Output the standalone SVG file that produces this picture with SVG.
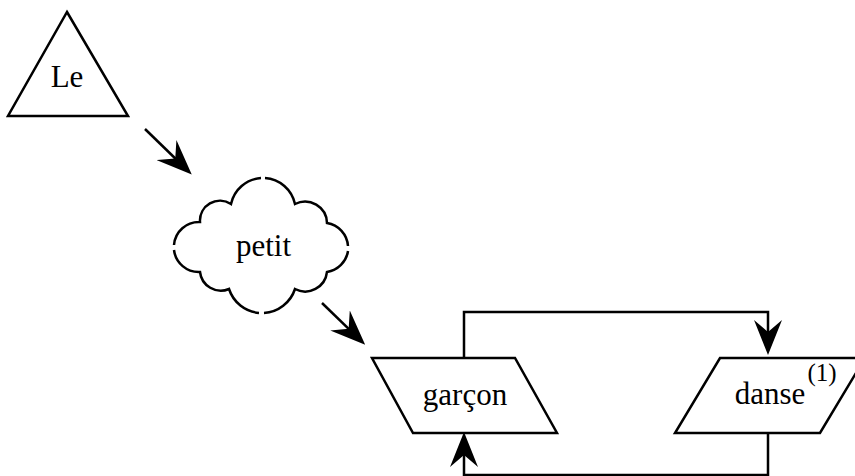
<svg xmlns="http://www.w3.org/2000/svg" width="855" height="476" viewBox="0 0 855 476">
<style>
.s{fill:#fff;stroke:#000;stroke-width:2.5;stroke-linejoin:miter}
.cl{fill:none;stroke:#000;stroke-width:2.5}
.c{fill:none;stroke:#000;stroke-width:2.5}
text{font-family:'Liberation Serif','Times New Roman',Times,serif;font-size:31px;fill:#000;text-anchor:middle}
</style>
<defs>
<marker id="ah" viewBox="0 0 35 28" markerWidth="35" markerHeight="28" refX="20" refY="14" markerUnits="userSpaceOnUse" orient="auto">
<path d="M35,14 L0,0 L12,14 L0,28 Z" fill="#000"/>
</marker>
</defs>
<g id="connectors">
<path class="c" d="M145,129 L181,164" marker-end="url(#ah)"/>
<path class="c" d="M322,303 L354.4,334.4" marker-end="url(#ah)"/>
<path class="c" d="M464,358 V312 H768 V340" marker-end="url(#ah)"/>
<path class="c" d="M768,433 V475 H464 V447" marker-end="url(#ah)"/>
</g>
<g id="node-le">
<path class="s" d="M67,12 L128,116 L8,116 Z"/>
<text x="67" y="87" font-family="Liberation Serif, serif">Le</text>
</g>
<g id="node-petit">
<path fill="#fff" stroke="none" d="M231,204 A33,33 0 0 1 295,204 A22,22 0 0 1 327,223 A25,25 0 0 1 327,272 A22,22 0 0 1 295,289 A35,35 0 0 1 229,289 A21,21 0 0 1 200,272 A25,25 0 0 1 200,222 A20,20 0 0 1 231,204 Z"/>
<path class="cl" d="M265,178 A33,33 0 0 1 295,204 A22,22 0 0 1 327,223 A25,25 0 0 1 348,246"/>
<path class="cl" d="M348,251 A25,25 0 0 1 327,272 A22,22 0 0 1 295,289 A35,35 0 0 1 264,313"/>
<path class="cl" d="M259,313 A35,35 0 0 1 229,289 A21,21 0 0 1 200,272 A25,25 0 0 1 174,250"/>
<path class="cl" d="M174,245 A25,25 0 0 1 200,222 A20,20 0 0 1 231,204 A33,33 0 0 1 261,178"/>
<text x="263.5" y="256" font-family="Liberation Serif, serif">petit</text>
</g>
<g id="node-garcon">
<path class="s" d="M372,358 L515,358 L557,433 L413,433 Z"/>
<text x="465" y="405" font-family="Liberation Serif, serif">garçon</text>
</g>
<g id="node-danse">
<path class="s" d="M720,358 L865,358 L820,433 L675,433 Z"/>
<text x="770" y="404" font-family="Liberation Serif, serif">danse</text>
<text x="822" y="381" font-family="Liberation Serif, serif" style="font-size:25px">(1)</text>
</g>
</svg>
